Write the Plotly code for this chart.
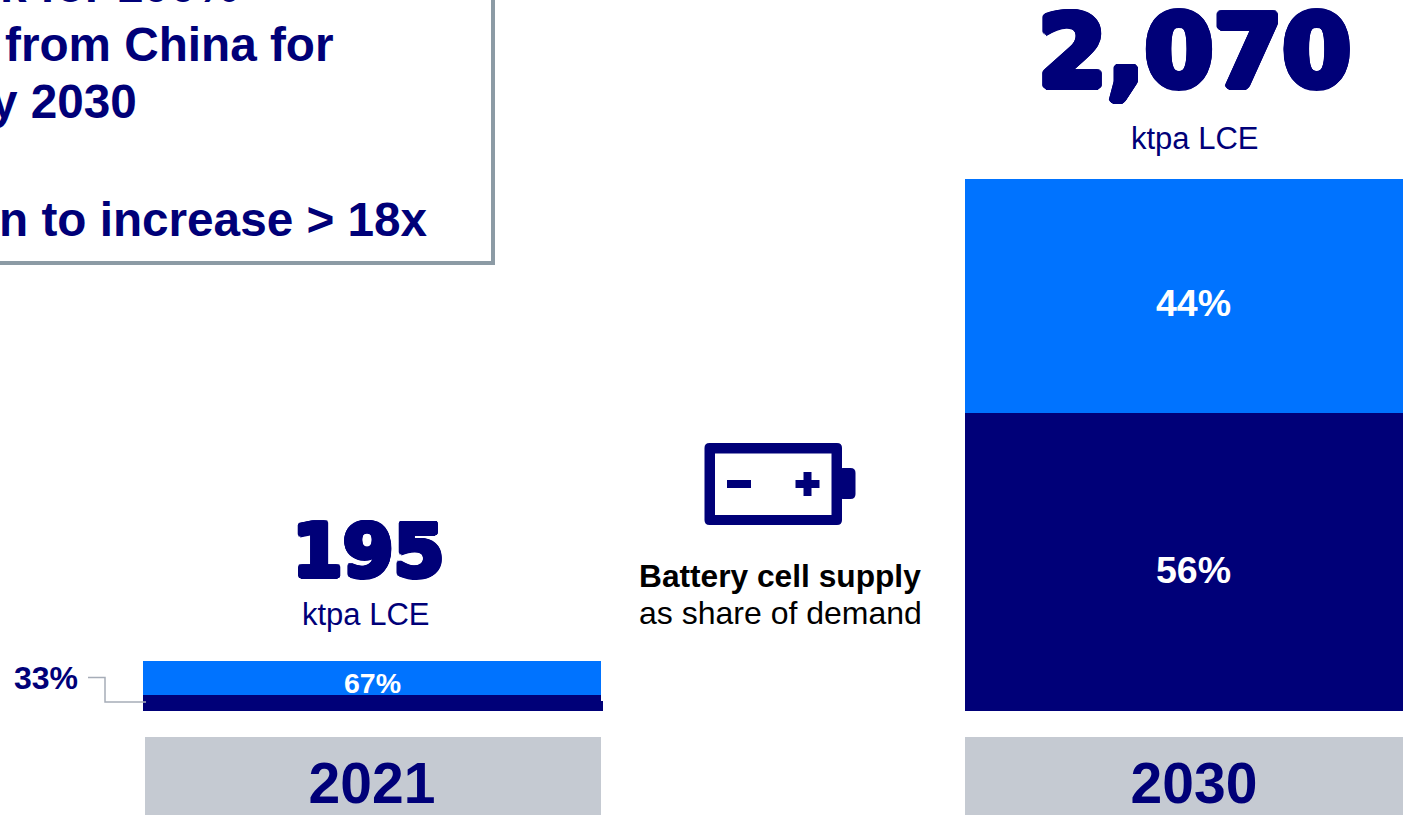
import math

import plotly.graph_objects as go

W, H = 1403, 815

# Chart data
years = ["2021", "2030"]
totals = ["195", "2,070"]
lower_values = [64, 1159]
upper_values = [131, 911]
lower_labels = ["33%", "56%"]
upper_labels = ["67%", "44%"]

NAVY = "#000078"
BLUE = "#0073FF"
GREY_BAND = "#C5CAD2"
BORDER = "#8C9BA5"
SANS = "Liberation Sans"
HEAVY = "DejaVu Sans"


def px(x):
    return x / W


def py(y):
    return 1 - y / H


def page_rect(x0, y0, x1, y1, fill, line=None, width=0, layer="below"):
    return dict(type="rect", xref="paper", yref="paper", x0=px(x0), x1=px(x1), y0=py(y0), y1=py(y1),
                fillcolor=fill, line=dict(color=line or fill, width=width), layer=layer)


def page_text(x, y, text, size, color=NAVY, bold=False, anchor="center", family=SANS, shadow=None):
    font = dict(family=family, size=size, color=color, weight="bold" if bold else "normal")
    if shadow:
        font["shadow"] = shadow
    return dict(xref="paper", yref="paper", x=px(x), y=py(y), text=text, showarrow=False,
                xanchor=anchor, yanchor="middle", font=font)


def segment_label(position, y, text, size, yshift):
    # A numeric x is the category's position on the axis
    return dict(xref="x", yref="y", x=position, y=y, text=text, showarrow=False, yshift=yshift,
                font=dict(family=SANS, size=size, color="white", weight="bold"))


def thick_outline(radius):
    # A ring of text shadows thickens the glyphs into a black weight
    steps = [i * math.pi / 8 for i in range(16)]
    return ", ".join(f"{radius * math.cos(a):.2f}px {radius * math.sin(a):.2f}px 0 {NAVY}" for a in steps)


def rounded_path(x0, y0, x1, y1, r):
    return (f"M{px(x0 + r)},{py(y0)} L{px(x1 - r)},{py(y0)} Q{px(x1)},{py(y0)} {px(x1)},{py(y0 + r)} "
            f"L{px(x1)},{py(y1 - r)} Q{px(x1)},{py(y1)} {px(x1 - r)},{py(y1)} "
            f"L{px(x0 + r)},{py(y1)} Q{px(x0)},{py(y1)} {px(x0)},{py(y1 - r)} "
            f"L{px(x0)},{py(y0 + r)} Q{px(x0)},{py(y0)} {px(x0 + r)},{py(y0)} Z")


fig = go.Figure()
fig.add_trace(go.Bar(x=years, y=lower_values, marker=dict(color=NAVY, line=dict(width=0)), width=0.557))
fig.add_trace(go.Bar(x=years, y=upper_values, marker=dict(color=BLUE, line=dict(width=0)), width=0.557))

shapes = [
    # Year bands behind the axis labels
    page_rect(145, 737, 601, 815, GREY_BAND),
    page_rect(965, 737, 1403, 815, GREY_BAND),
    # Callout box running off the page
    page_rect(-20, -20, 493, 263, "#FFFFFF", BORDER, 4),
    # Small step on the lower 2021 segment
    page_rect(601, 701, 603, 711, NAVY),
    # Battery icon
    dict(type="path", xref="paper", yref="paper", path=rounded_path(838, 468, 855.5, 499, 5),
         fillcolor=NAVY, line=dict(width=0), layer="above"),
    dict(type="path", xref="paper", yref="paper", path=rounded_path(704.5, 443, 842, 525, 5),
         fillcolor=NAVY, line=dict(width=0), layer="above"),
    page_rect(715, 453.5, 831.5, 515, "#FFFFFF", layer="above"),
    page_rect(727, 480, 751, 488, NAVY, layer="above"),
    page_rect(795.5, 480, 819.5, 488, NAVY, layer="above"),
    page_rect(803.5, 472, 811.5, 496, NAVY, layer="above"),
    # Leader from the 33% label to its segment
    dict(type="path", xref="paper", yref="paper",
         path=f"M{px(88)},{py(677.5)} L{px(105)},{py(677.5)} L{px(105)},{py(702)} L{px(146)},{py(702)}",
         line=dict(color="#A6ADB8", width=1.5), layer="above"),
]

# Callout wording, one line per annotation, each right-aligned to where it ends
callout_lines = [("k for 100%", 241, -15), ("from China for", 336, 44), ("y 2030", 139, 102),
                 ("n to increase > 18x", 429.5, 219)]
annotations = [page_text(x, y, t, 47.7, bold=True, anchor="right") for t, x, y in callout_lines]

annotations += [
    page_text(367.5, 550, totals[0], 73, bold=True, family=HEAVY, shadow=thick_outline(2.5)),
    page_text(366, 614, "ktpa LCE", 31),
    page_text(1194.5, 52, totals[1], 99, bold=True, family=HEAVY, shadow=thick_outline(3.5)),
    page_text(1195, 138, "ktpa LCE", 31),
    page_text(779.5, 576, "Battery cell supply", 31.7, color="#000000", bold=True),
    page_text(780, 613, "as share of demand", 32, color="#000000"),
    page_text(46, 678, lower_labels[0], 32, bold=True),
]

# Segment labels sit slightly below each segment's centre
annotations += [
    segment_label(1, lower_values[1] / 2, lower_labels[1], 37.5, -8),
    segment_label(1, lower_values[1] + upper_values[1] / 2, upper_labels[1], 37.5, -7),
    segment_label(0, lower_values[0] + upper_values[0] / 2, upper_labels[0], 28.5, -5),
]

fig.update_layout(
    width=W, height=H, margin=dict(l=0, r=0, t=0, b=0), barmode="stack", showlegend=False,
    paper_bgcolor="white", plot_bgcolor="rgba(0,0,0,0)", shapes=shapes, annotations=annotations,
)
fig.update_xaxes(type="category", range=[-0.4526, 1.2543], automargin=False, showgrid=False, showline=False,
                 zeroline=False, ticks="", tickfont=dict(family=SANS, size=57, color=NAVY, weight="bold"),
                 ticklabelstandoff=34)
fig.update_yaxes(domain=[104 / H, 1], range=[0, 2766], automargin=False, visible=False, showgrid=False,
                 zeroline=False)

fig.write_html("out.html", config=dict(displayModeBar=False))
